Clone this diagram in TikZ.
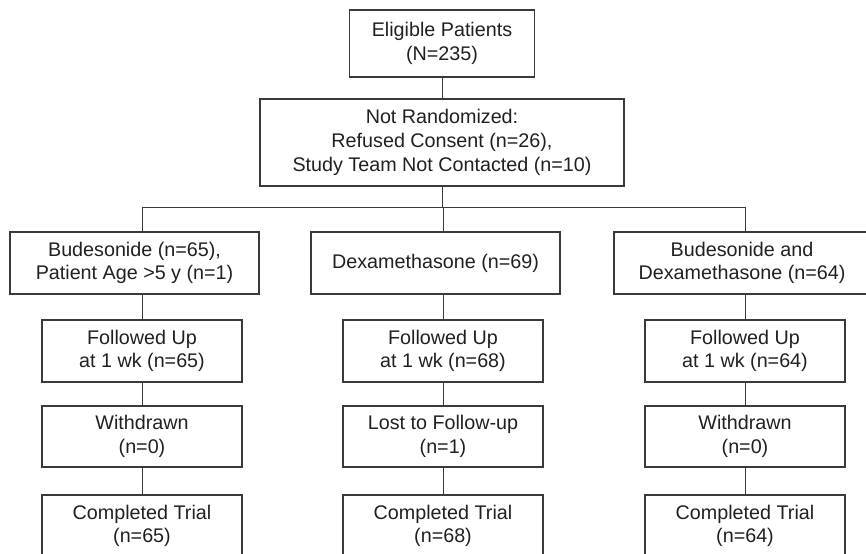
\documentclass[tikz,border=0pt]{standalone}
\usepackage{fontspec}
\setmainfont{Liberation Sans}
\definecolor{boxline}{HTML}{3A3A3A}
\definecolor{txt}{HTML}{202020}
\tikzset{
	box/.style={draw=boxline, line width=0.8pt, text=txt, align=center, inner sep=0pt,
		font=\fontsize{14.8}{17.8}\selectfont},
	armbox/.style={box, minimum width=186.75pt, minimum height=46.5pt},
	stepbox/.style={box, minimum width=150pt, minimum height=46.5pt},
	link/.style={draw=boxline, line width=0.75pt},
}
\begin{document}
\begin{tikzpicture}[x=0.75pt,y=-0.75pt,line cap=rect]
	\clip (0,0) rectangle (866,553);
	
	\node[box, minimum width=138.75pt, minimum height=50.25pt] (elig) at (442,43.5) {Eligible Patients\\(N=235)};
	\node[box, minimum width=273pt, minimum height=65.25pt] (notrand) at (442,142.5) {Not Randomized:\\Refused Consent (n=26),\\Study Team Not Contacted (n=10)};
	\draw[link] (elig) -- (notrand);
	
	\node[armbox] (arm1) at (134.5,263) {Budesonide (n=65),\\Patient Age >5 y (n=1)};
	\node[armbox] (arm2) at (435.5,263) {Dexamethasone (n=69)};
	\node[armbox, minimum width=192pt] (arm3) at (742,263) {Budesonide and\\Dexamethasone (n=64)};
	
	\coordinate (fork) at (442,207);
	\draw[link] (notrand.south -| fork) -- (fork);
	
	\foreach \col/\x/\fu/\out/\done in {1/142/65/Withdrawn\\(n=0)/65, 2/443/68/Lost to Follow-up\\(n=1)/68, 3/745/64/Withdrawn\\(n=0)/64}{
		\node[stepbox] (fu\col) at (\x,351) {Followed Up\\at 1 wk (n=\fu)};
		\node[stepbox, minimum height=45.75pt] (wd\col) at (\x,436.5) {\out};
		\node[stepbox] (ct\col) at (\x,526) {Completed Trial\\(n=\done)};
		\draw[link] (fork -| fu\col) -- (arm\col.north -| fu\col);
		\draw[link] (arm\col.south -| fu\col) -- (fu\col);
		\draw[link] (fu\col) -- (wd\col);
		\draw[link] (wd\col) -- (ct\col);
	}
	\draw[link] (fork -| fu1) -- (fork -| fu3);
\end{tikzpicture}
\end{document}
